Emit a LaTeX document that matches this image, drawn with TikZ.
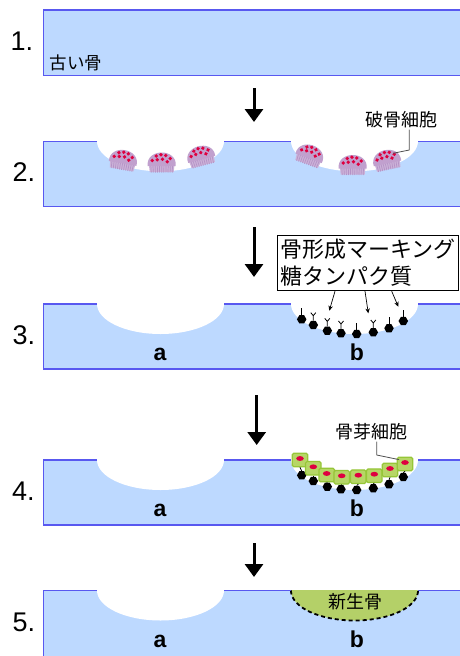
\documentclass[tikz,border=0pt]{standalone}
\usepackage{fontspec}
\setmainfont{Liberation Sans}
\newfontfamily\jpfont{Noto Sans CJK JP}
\usetikzlibrary{arrows.meta,shapes.geometric}

\definecolor{bonefill}{RGB}{189,217,255}
\definecolor{boneline}{RGB}{88,88,240}
\definecolor{ocdome}{RGB}{193,160,206}
\definecolor{ocskirt}{RGB}{204,178,216}
\definecolor{ocfringe}{RGB}{180,146,198}
\definecolor{nucred}{RGB}{222,0,64}
\definecolor{obfill}{RGB}{182,214,102}
\definecolor{obline}{RGB}{150,198,56}
\definecolor{newbone}{RGB}{180,208,104}
\definecolor{leader}{RGB}{80,80,80}

% bone slab: top y, bottom y (y grows downwards)
\newcommand\boneslab[2]{\fill[bonefill] (43.3,#1) rectangle (462,#2);}
% resorption pit: centre x, slab top y
\newcommand\pitcut[2]{\begin{scope}\clip (43.3,#2) rectangle (462,{#2+40});
  \fill[white] (#1,#2) ellipse [x radius=63.5,y radius=30];\end{scope}}
% slab outline with gaps over the two pits
\newcommand\slabedge[2]{\draw[boneedge] (97,#1) -- (43.3,#1) -- (43.3,#2) -- (462,#2);
  \draw[boneedge] (224,#1) -- (291,#1) (418,#1) -- (462,#1);}

\tikzset{
  boneedge/.style={draw=boneline, line width=1.2pt},
  bigarrow/.style={line width=3pt, -{Triangle[width=18pt,length=13pt]}},
  jp/.style={font=\jpfont\fontsize{18}{20}\selectfont, inner sep=1.5pt},
  num/.style={font=\fontsize{27}{30}\selectfont, anchor=base west, inner sep=0pt},
  pitlabel/.style={font=\bfseries\fontsize{23}{26}\selectfont, anchor=base, inner sep=0pt},
  hexdot/.style={regular polygon, regular polygon sides=6, fill=black, inner sep=0pt, minimum size=9.5pt},
  stem/.style={line width=0.8pt},
  obcell/.style={rectangle, fill=obfill, draw=obline, line width=1.2pt, rounded corners=1.5pt,
    minimum width=15.5pt, minimum height=13.5pt, inner sep=0pt},
  leaderline/.style={draw=leader, line width=0.8pt},
  thinarrow/.style={line width=0.7pt, -{Stealth[length=5pt,width=4.5pt]}},
  osteoclast/.pic={
    \fill[ocskirt] (-13,1) -- (13,1) -- (12,10) -- (-12,10) -- cycle;
    \foreach \u in {-11,-8.8,...,11} \draw[ocfringe, line width=0.7pt] (\u,2) -- ({\u*0.95},10.5);
    \fill[ocdome] (-14,4) .. controls (-16,-14) and (16,-14) .. (14,4) -- cycle;
    \foreach \p in {(-5.5,-6),(-0.8,-7.3),(4,-6.5),(8.5,-3.5),(-9.5,-1.5),(-4.5,-2.3),(0.8,-2.8),(5.5,-0.3)}
      \fill[nucred] \p circle (1.9);
  }
}

\begin{document}
\begin{tikzpicture}[x=1pt,y=-1pt]
\useasboundingbox (0,0) rectangle (460,656);

% ---------- slabs and pits ----------
\boneslab{10}{75.5}
\boneslab{141.3}{206.3}
\boneslab{304}{369}
\boneslab{460}{525}
\boneslab{590.5}{657}

\pitcut{160.5}{141.3}\pitcut{354.5}{141.3}
\pitcut{160.5}{304}\pitcut{354.5}{304}
\pitcut{160.5}{460}\pitcut{354.5}{460}
\pitcut{160.5}{590.5}

% new bone filling pit b
\begin{scope}
  \clip (43.3,590.5) rectangle (462,640);
  \fill[newbone] (354.5,590.5) ellipse [x radius=63.5,y radius=30];
\end{scope}
\draw[line width=1.8pt, dash pattern=on 4pt off 3pt]
  plot[domain=180:360, samples=60] ({354.5+63.5*cos(\x)},{590.5-30*sin(\x)});

\draw[boneedge] (462,10) -- (43.3,10) -- (43.3,75.5) -- (462,75.5);
\slabedge{141.3}{206.3}
\slabedge{304}{369}
\slabedge{460}{525}
\draw[boneedge] (97,590.5) -- (43.3,590.5) -- (43.3,657);
\draw[boneedge] (224,590.5) -- (291,590.5) (418,590.5) -- (462,590.5);

% ---------- step numbers ----------
\node[num] (n1) at (10.5,50) {1.};
\node[num] (n2) at (12.5,181.3) {2.};
\node[num] (n3) at (12.5,344) {3.};
\node[num] (n4) at (12,500) {4.};
\node[num] (n5) at (12.5,631) {5.};

% ---------- 1: old bone ----------
\node[jp, font=\jpfont\fontsize{17.5}{20}\selectfont] (old) at (76,62.5) {古い骨};

% ---------- 2: osteoclasts ----------
\pic[rotate=-10] (oc1) at (123.3,159.5) {osteoclast};
\pic (oc2) at (161.7,162) {osteoclast};
\pic[rotate=15] (oc3) at (200.7,155.5) {osteoclast};
\pic[rotate=-20] (oc4) at (310,154.5) {osteoclast};
\pic (oc5) at (352.7,164.5) {osteoclast};
\pic[rotate=12] (oc6) at (386.7,159.5) {osteoclast};
\coordinate (ocTip) at (393,153.3);
\coordinate (ocBend) at (409.3,150);
\node[jp] (lbOc) at (401.5,119.5) {破骨細胞};
\draw[leaderline] (lbOc.south -| ocBend) -- (ocBend) -- (ocTip);

% ---------- 3: marking glycoproteins ----------
\foreach \n/\x/\y in {1/301.7/319.3, 2/313.3/325, 3/327.3/330.7, 4/341/333.3,
                      5/356.7/334, 6/373.3/332.3, 7/389/328.3, 8/403.3/321}
  \node[hexdot] (p\n) at (\x,\y) {};
\foreach \n in {1,5,7,8} \draw[stem] (p\n.north) -- ++(0,-7);
\foreach \n in {2,3,4,6}
  \draw[stem] (p\n.north) -- ++(0,-5) coordinate (r\n) -- ++(-2.5,-3) (r\n) -- ++(2.5,-3);

\node[draw, line width=0.9pt, fill=white, anchor=north west, align=left,
      inner xsep=3pt, inner ysep=4pt, font=\jpfont\fontsize{22}{27}\selectfont]
  (marker) at (277,235) {骨形成マーキング\\糖タンパク質};
\coordinate (t1) at (329.3,310.7);
\coordinate (t2) at (368.3,313.3);
\coordinate (t3) at (398.3,306.7);
\draw[thinarrow] ([xshift=58pt]marker.south west) -- (t1);
\draw[thinarrow] ([xshift=88pt]marker.south west) -- (t2);
\draw[thinarrow] ([xshift=114.7pt]marker.south west) -- (t3);

% ---------- 4: osteoblasts ----------
\foreach \n/\x/\y in {1/301.7/475.3, 2/313.3/481, 3/327.3/486.7, 4/341/489.3,
                      5/356.7/490, 6/373.3/488.3, 7/389/484.3, 8/403.3/477}
  \node[hexdot] (q\n) at (\x,\y) {};
\foreach \n/\x/\y in {1/300/460, 2/313.3/468.3, 3/326.7/475, 4/341.7/477.3,
                      5/358.3/476.7, 6/374.3/475.7, 7/390/470, 8/405/464}
  {\node[obcell] (g\n) at (\x,\y) {};
   \fill[nucred] ([yshift=1.5pt]g\n.center) ellipse [x radius=3.8, y radius=2.4];}
\foreach \n in {1,...,8} \draw[stem] (q\n.north) -- (g\n.south);
\coordinate (obBend) at (376.7,455);
\node[jp] (lbOb) at (371,431.5) {骨芽細胞};
\draw[leaderline] (lbOb.south -| obBend) -- (obBend) -- ([shift={(2.5pt,-3pt)}]g8.north west);

% ---------- 5: new bone ----------
\node[jp] (nb) at (355,601.5) {新生骨};

% ---------- pit letters ----------
\node[pitlabel] (a3) at (160,360) {a};
\node[pitlabel] (b3) at (357,360) {b};
\node[pitlabel] (a4) at (160,516.5) {a};
\node[pitlabel] (b4) at (357,516.5) {b};
\node[pitlabel] (a5) at (160,647) {a};
\node[pitlabel] (b5) at (357,647) {b};

% ---------- step arrows ----------
\coordinate (s1a) at (254,88);    \coordinate (s1b) at (254,122);
\coordinate (s2a) at (254,227);   \coordinate (s2b) at (254,277);
\coordinate (s3a) at (256.7,395); \coordinate (s3b) at (256.7,445);
\coordinate (s4a) at (254,543);   \coordinate (s4b) at (254,577);
\draw[bigarrow] (s1a) -- (s1b);
\draw[bigarrow] (s2a) -- (s2b);
\draw[bigarrow] (s3a) -- (s3b);
\draw[bigarrow] (s4a) -- (s4b);
\end{tikzpicture}
\end{document}
